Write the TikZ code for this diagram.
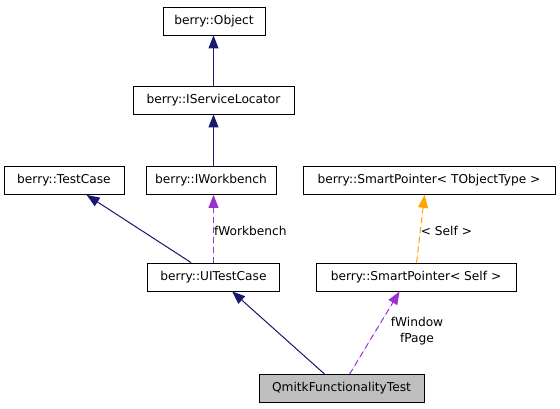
\documentclass[tikz,border=0pt]{standalone}
\usepackage{fontspec}
\setmainfont{DejaVu Sans}
\usetikzlibrary{calc,positioning,arrows.meta}
\definecolor{inhcol}{RGB}{25,25,112}
\definecolor{usecol}{RGB}{154,50,205}
\definecolor{tplcol}{RGB}{255,165,0}
\tikzset{
cls/.style={
  draw,
  minimum height=28pt,
  inner sep=0pt,
  line width=0.8pt,
  font=\fontsize{12.2}{14}\selectfont
  },
clsw/.style={
  cls,
  minimum width=#1
  },
lbl/.style={
  inner sep=0pt,
  align=center,
  font=\fontsize{12.2}{16}\selectfont
  },
edge/.style={
  line width=1pt,
  -{Triangle[length=13pt,width=10pt]}
  },
inh/.style={edge,draw=inhcol,fill=inhcol},
use/.style={edge,draw=usecol,fill=usecol,dash pattern=on 6pt off 4pt},
tpl/.style={edge,draw=tplcol,fill=tplcol,dash pattern=on 6pt off 4pt}
}
\begin{document}
\begin{tikzpicture}[x=1pt,y=-1pt]
            \useasboundingbox (0,0) rectangle (560,408);
            % classes
            \node[clsw=102pt] (obj) at (214,21) {berry::Object};
            \node[clsw=161pt] (isl) at (213.5,100) {berry::IServiceLocator};
            \node[clsw=120pt] (tc) at (64,180.5) {berry::TestCase};
            \node[clsw=130pt] (iwb) at (211,180.5) {berry::IWorkbench};
            \node[clsw=132pt] (uitc) at (213.5,277) {berry::UITestCase};
            \node[clsw=252pt] (spT) at (429,180.5) {berry::SmartPointer< TObjectType >};
            \node[clsw=200pt] (spS) at (416,277) {berry::SmartPointer< Self >};
            \node[clsw=165pt,fill=black!25] (qft) at (341.5,388.5) {QmitkFunctionalityTest};
            % inheritance
            \draw[inh] (isl.north) -- (isl.north |- obj.south);
            \draw[inh] (isl.south |- iwb.north) -- (isl.south);
            \draw[inh] ([xshift=44pt]uitc.north west) -- ([xshift=83pt]tc.south west);
            \draw[inh] ([xshift=66pt]qft.north west) -- ([xshift=85pt]uitc.south west);
            % usage
            \draw[use] (uitc.north) -- (uitc.north |- iwb.south)
                node[lbl,anchor=west,pos=0.47] (lwb) {fWorkbench};
            \draw[use] ([xshift=91pt]qft.north west) -- ([xshift=84pt]spS.south west);
            \node[lbl] (lwin) at (417,331) {fWindow\\fPage};
            % template
            \draw[tpl] ([xshift=101pt]spS.north west) -- ([xshift=122pt]spT.south west)
                node[lbl,anchor=west,pos=0.47] (lself) {< Self >};
        \end{tikzpicture}
\end{document}
